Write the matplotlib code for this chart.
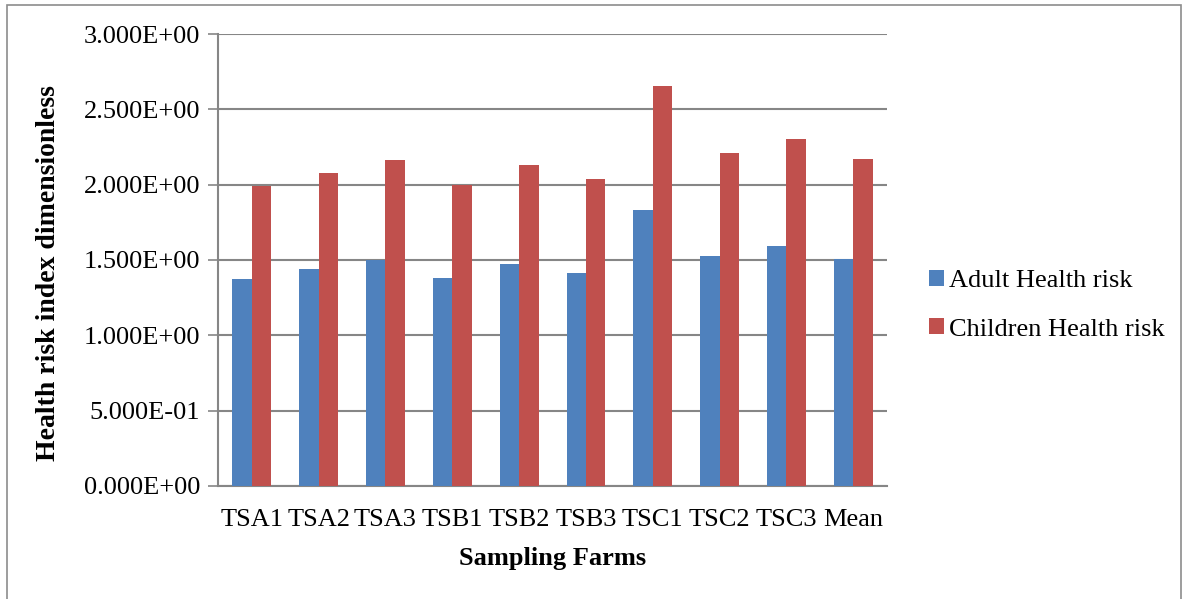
import matplotlib.pyplot as plt
import numpy as np
from matplotlib.patches import Rectangle
from matplotlib.ticker import FuncFormatter

farms = ['TSA1', 'TSA2', 'TSA3', 'TSB1', 'TSB2', 'TSB3', 'TSC1', 'TSC2', 'TSC3', 'Mean']
adult_risk = [1.374, 1.438, 1.499, 1.379, 1.474, 1.412, 1.835, 1.527, 1.594, 1.505]
child_risk = [1.988, 2.077, 2.163, 1.995, 2.130, 2.039, 2.653, 2.210, 2.305, 2.172]

plt.rcParams['font.family'] = ['Liberation Serif', 'DejaVu Serif']

fig = plt.figure(figsize=(11.87, 5.99), dpi=100)
ax = fig.add_axes([0.184, 0.189, 0.563, 0.754])

# outer frame around the whole chart
fig.patches.append(Rectangle((0.006, -0.05), 0.989, 1.042, transform=fig.transFigure,
                             fill=False, edgecolor='#8c8c8c', linewidth=1.2))

x = np.arange(len(farms))
w = 0.29
ax.bar(x - w / 2, adult_risk, w, color='#4F81BD', label='Adult Health risk', zorder=3)
ax.bar(x + w / 2, child_risk, w, color='#C0504D', label='Children Health risk', zorder=3)

ax.set_xlim(-0.5, len(farms) - 0.5)
ax.set_ylim(0, 3.0)
ax.set_yticks(np.arange(0, 3.01, 0.5))
ax.yaxis.set_major_formatter(FuncFormatter(lambda v, p: f'{v:.3E}'))
ax.set_xticks(x)
ax.set_xticklabels(farms)

ax.grid(axis='y', color='#868686', linewidth=1.5, zorder=0)
for s in ['top', 'right']:
    ax.spines[s].set_visible(False)
for s in ['left', 'bottom']:
    ax.spines[s].set_color('#868686')
    ax.spines[s].set_linewidth(1.5)
ax.tick_params(axis='y', direction='out', length=7, color='#868686', width=1.2,
               labelsize=19, pad=6)
ax.tick_params(axis='x', length=0, labelsize=19, pad=17)

ax.set_ylabel('Health risk index dimensionless', fontsize=20, fontweight='bold')
ax.yaxis.set_label_coords(-0.235, 0.47)
ax.set_xlabel('Sampling Farms', fontsize=19, fontweight='bold', labelpad=11)

ax.legend(loc='center left', bbox_to_anchor=(1.028, 0.40), frameon=False, fontsize=19,
          handlelength=0.55, handleheight=0.55, handletextpad=0.22, labelspacing=1.0)

fig.savefig('out.png', dpi=100)
